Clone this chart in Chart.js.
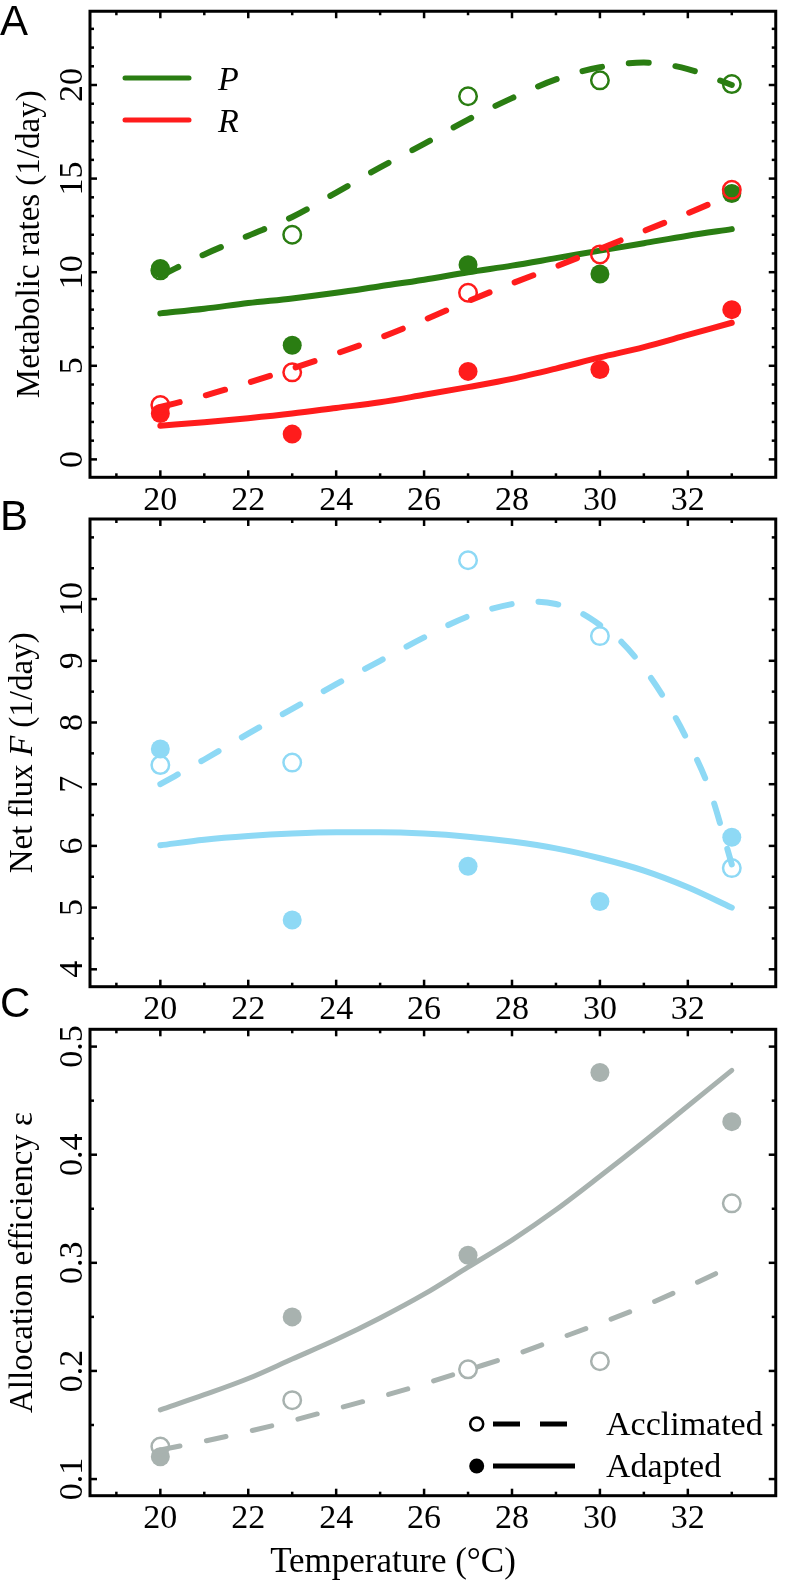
<!DOCTYPE html>
<html><head><meta charset="utf-8">
<script src="https://cdn.jsdelivr.net/npm/chart.js@4.4.1/dist/chart.umd.min.js"></script>
<style>
html,body{margin:0;padding:0;background:#fff;}
body{width:787px;height:1588px;position:relative;overflow:hidden;}
canvas{position:absolute;left:0;}
</style></head><body>
<canvas id="cA" width="787" height="540" style="top:0px"></canvas>
<canvas id="cB" width="787" height="540" style="top:500px"></canvas>
<canvas id="cC" width="787" height="608" style="top:980px"></canvas>
<script>
// ---------- data ----------
const temps = [20, 23, 27, 30, 33];
const fitT  = [20, 21, 22, 23, 24, 25, 26, 27, 28, 29, 30, 31, 32, 33];
const fitTB = [20, 21, 22, 23, 24, 25, 26, 27, 28, 28.5, 29, 29.5, 30, 30.5, 31, 31.5, 32, 32.5, 33];

// Panel A: metabolic rates (1/day)
const pAccObs = [10.1, 12.0, 19.4, 20.25, 20.05];
const pAdpObs = [10.2, 6.1, 10.4, 9.9, 14.2];
const rAccObs = [2.9, 4.65, 8.9, 10.95, 14.4];
const rAdpObs = [2.45, 1.35, 4.7, 4.8, 8.0];
const pAccFit = [9.8, 10.95, 11.95, 12.95, 14.25, 15.6, 16.85, 18.15, 19.3, 20.3, 20.95, 21.2, 20.85, 20.0];
const pAdpFit = [7.8, 8.05, 8.35, 8.6, 8.9, 9.25, 9.6, 10.0, 10.35, 10.75, 11.15, 11.55, 11.95, 12.3];
const rAccFit = [2.8, 3.4, 4.1, 4.85, 5.65, 6.5, 7.45, 8.45, 9.4, 10.3, 11.25, 12.2, 13.15, 14.15];
const rAdpFit = [1.8, 1.98, 2.2, 2.45, 2.75, 3.05, 3.45, 3.86, 4.3, 4.85, 5.45, 6.0, 6.65, 7.3];

// Panel B: net flux F (1/day)
const fAccObs = [7.31, 7.35, 10.63, 9.40, 5.64];
const fAdpObs = [7.57, 4.80, 5.67, 5.10, 6.14];
const fAccFit = [7.0, 7.4, 7.82, 8.22, 8.62, 9.0, 9.38, 9.72, 9.92, 9.96, 9.92, 9.8, 9.58, 9.3, 8.88, 8.35, 7.7, 6.9, 5.7];
const fAdpFit = [6.01, 6.1, 6.16, 6.2, 6.22, 6.22, 6.2, 6.15, 6.07, 5.96, 5.8, 5.6, 5.33, 5.0];

// Panel C: allocation efficiency
const eAccObs = [0.130, 0.173, 0.2015, 0.209, 0.355];
const eAdpObs = [0.1206, 0.250, 0.307, 0.476, 0.4306];
const eAccFit = [0.127, 0.135, 0.144, 0.154, 0.165, 0.176, 0.188, 0.201, 0.214, 0.229, 0.244, 0.26, 0.278, 0.297];
const eAdpFit = [0.164, 0.178, 0.193, 0.211, 0.229, 0.249, 0.271, 0.296, 0.321, 0.349, 0.38, 0.412, 0.445, 0.478];

// tick values
const xMajor = [20, 22, 24, 26, 28, 30, 32];
const xMinor = [19, 21, 23, 25, 27, 29, 31, 33];
const yMajorA = [0, 5, 10, 15, 20];
const yMinorA = [1,2,3,4,6,7,8,9,11,12,13,14,16,17,18,19,21,22,23];
const yMajorB = [4, 5, 6, 7, 8, 9, 10];
const yMinorB = [4.5, 5.5, 6.5, 7.5, 8.5, 9.5, 10.5, 11];
const yMajorC = [0.1, 0.2, 0.3, 0.4, 0.5];
const yMinorC = [0.15, 0.25, 0.35, 0.45];

// ---------- styling ----------
const SERIF = '"Liberation Serif", "Times New Roman", serif';
const SANS = '"Liberation Sans", Arial, sans-serif';
const GREEN = '#2a7d12';
const RED = '#ff1c1c';
const BLUE = '#8ed9f5';
const GRAY = '#a8b2af';
const TICK_PX = 34;

const pts = (xs, ys) => xs.map((x, i) => ({x, y: ys[i]}));

function openPts(data, color) {
  return {data: pts(temps, data), showLine: false, pointRadius: 8.75, pointBorderWidth: 2.5,
    pointBorderColor: color, pointBackgroundColor: 'rgba(0,0,0,0)', borderColor: color};
}
function filledPts(data, color) {
  return {data: pts(temps, data), showLine: false, pointRadius: 9.5, pointBorderWidth: 0,
    pointBackgroundColor: color, pointBorderColor: color, borderColor: color};
}
function fitLine(xs, data, color, dashed, w) {
  return {data: pts(xs, data), showLine: true, pointRadius: 0, borderColor: color, borderWidth: w,
    borderDash: dashed ? [20, 27] : [], borderCapStyle: 'round', cubicInterpolationMode: 'monotone', fill: false};
}

function drawRotated(ctx, parts, bx, cy, size) {
  ctx.save();
  ctx.translate(bx, cy);
  ctx.rotate(-Math.PI / 2);
  ctx.textBaseline = 'alphabetic';
  ctx.textAlign = 'left';
  let total = 0;
  parts.forEach(p => { ctx.font = (p.it ? 'italic ' : '') + size + 'px ' + SERIF; p.w = ctx.measureText(p.t).width; total += p.w; });
  let xx = -total / 2;
  parts.forEach(p => { ctx.font = (p.it ? 'italic ' : '') + size + 'px ' + SERIF; ctx.fillText(p.t, xx, 0); xx += p.w; });
  ctx.restore();
}

function decor(o) {
  return {
    id: 'decor' + o.name,
    afterDraw(chart) {
      const {ctx, chartArea: a, scales: {x, y}} = chart;
      ctx.save();
      ctx.strokeStyle = '#000';
      ctx.lineCap = 'butt';
      ctx.lineWidth = 2.5;
      const seg = (x1, y1, x2, y2) => { ctx.beginPath(); ctx.moveTo(x1, y1); ctx.lineTo(x2, y2); ctx.stroke(); };
      xMajor.forEach(v => { const p = x.getPixelForValue(v); seg(p, a.bottom, p, a.bottom - 7); seg(p, a.top, p, a.top + 7); });
      xMinor.forEach(v => { const p = x.getPixelForValue(v); seg(p, a.bottom, p, a.bottom - 4); seg(p, a.top, p, a.top + 4); });
      o.yMajor.forEach(v => { const p = y.getPixelForValue(v); seg(a.left, p, a.left + 7, p); seg(a.right, p, a.right - 7, p); });
      o.yMinor.forEach(v => { const p = y.getPixelForValue(v); seg(a.left, p, a.left + 4, p); seg(a.right, p, a.right - 4, p); });
      ctx.lineWidth = 3;
      ctx.strokeRect(a.left, a.top, a.right - a.left, a.bottom - a.top);
      // rotated y tick labels
      ctx.fillStyle = '#000';
      o.yMajor.forEach(v => {
        drawRotated(ctx, [{t: o.fmt(v)}], 82, y.getPixelForValue(v), TICK_PX);
      });
      // axis title
      drawRotated(ctx, o.title, o.titleX, (a.top + a.bottom) / 2, 33);
      // panel letter
      ctx.font = '42px ' + SANS;
      ctx.textAlign = 'left';
      ctx.textBaseline = 'alphabetic';
      ctx.fillText(o.letter, 0, o.letterY);
      if (o.extra) o.extra(ctx, chart);
      ctx.restore();
    }
  };
}

function makeChart(id, datasets, yMin, yMax, padTop, axisH, o) {
  return new Chart(document.getElementById(id), {
    type: 'scatter',
    data: {datasets},
    options: {
      responsive: false, animation: false, devicePixelRatio: 1,
      layout: {padding: {top: padTop, left: 90, right: 5.3, bottom: 0}},
      plugins: {legend: {display: false}, tooltip: {enabled: false}},
      scales: {
        x: {type: 'linear', min: 18.4, max: 34,
          grid: {display: false, drawTicks: false}, border: {display: false},
          afterBuildTicks: s => { s.ticks = xMajor.map(v => ({value: v})); },
          afterFit: s => { s.height = axisH; },
          ticks: {autoSkip: false, maxRotation: 0, minRotation: 0, padding: 3, color: '#000',
            font: {family: SERIF, size: TICK_PX}, callback: v => String(v)}},
        y: {type: 'linear', display: false, min: yMin, max: yMax}
      }
    },
    plugins: [decor(o)]
  });
}

// Panel A
makeChart('cA', [
  openPts(rAccObs, RED), filledPts(rAdpObs, RED),
  openPts(pAccObs, GREEN), filledPts(pAdpObs, GREEN),
  fitLine(fitT, rAccFit, RED, true, 6), fitLine(fitT, rAdpFit, RED, false, 6),
  fitLine(fitT, pAccFit, GREEN, true, 6), fitLine(fitT, pAdpFit, GREEN, false, 6)
], -0.957, 23.94, 9.3, 62.7, {
  name: 'A', yMajor: yMajorA, yMinor: yMinorA, fmt: v => String(v), letter: 'A', letterY: 35,
  titleX: 39, title: [{t: 'Metabolic rates (1/day)'}],
  extra: (ctx) => {
    ctx.lineCap = 'round'; ctx.lineWidth = 5;
    ctx.strokeStyle = GREEN; ctx.beginPath(); ctx.moveTo(125, 78); ctx.lineTo(189, 78); ctx.stroke();
    ctx.strokeStyle = RED; ctx.beginPath(); ctx.moveTo(125, 120); ctx.lineTo(189, 120); ctx.stroke();
    ctx.fillStyle = '#000'; ctx.font = 'italic 34px ' + SERIF;
    ctx.fillText('P', 218, 90); ctx.fillText('R', 218, 131.5);
  }
});

// Panel B
makeChart('cB', [
  openPts(fAccObs, BLUE), filledPts(fAdpObs, BLUE),
  fitLine(fitTB, fAccFit, BLUE, true, 6), fitLine(fitT, fAdpFit, BLUE, false, 6)
], 3.718, 11.298, 19, 53.3, {
  name: 'B', yMajor: yMajorB, yMinor: yMinorB, fmt: v => String(v), letter: 'B', letterY: 30,
  titleX: 32, title: [{t: 'Net flux '}, {t: 'F', it: true}, {t: ' (1/day)'}]
});

// Panel C
makeChart('cC', [
  openPts(eAccObs, GRAY), filledPts(eAdpObs, GRAY),
  fitLine(fitT, eAccFit, GRAY, true, 5), fitLine(fitT, eAdpFit, GRAY, false, 5)
], 0.0846, 0.516, 49.3, 92.3, {
  name: 'C', yMajor: yMajorC, yMinor: yMinorC, fmt: v => v.toFixed(1), letter: 'C', letterY: 37,
  titleX: 32, title: [{t: 'Allocation efficiency ε'}],
  extra: (ctx) => {
    ctx.strokeStyle = '#000'; ctx.fillStyle = '#000'; ctx.lineCap = 'butt';
    ctx.lineWidth = 2.5; ctx.beginPath(); ctx.arc(476.7, 444, 6.5, 0, Math.PI * 2); ctx.stroke();
    ctx.lineWidth = 5;
    ctx.beginPath(); ctx.moveTo(493, 444); ctx.lineTo(520, 444); ctx.moveTo(540, 444); ctx.lineTo(567, 444); ctx.stroke();
    ctx.beginPath(); ctx.arc(476.7, 486, 7.5, 0, Math.PI * 2); ctx.fill();
    ctx.beginPath(); ctx.moveTo(493, 486); ctx.lineTo(575, 486); ctx.stroke();
    ctx.font = '34px ' + SERIF; ctx.textAlign = 'left'; ctx.textBaseline = 'alphabetic';
    ctx.fillText('Acclimated', 606, 455);
    ctx.fillText('Adapted', 606, 497);
    ctx.textAlign = 'center'; ctx.textBaseline = 'middle'; ctx.font = '35px ' + SERIF;
    ctx.fillText('Temperature (°C)', 393, 583);
  }
});
</script>
</body></html>
